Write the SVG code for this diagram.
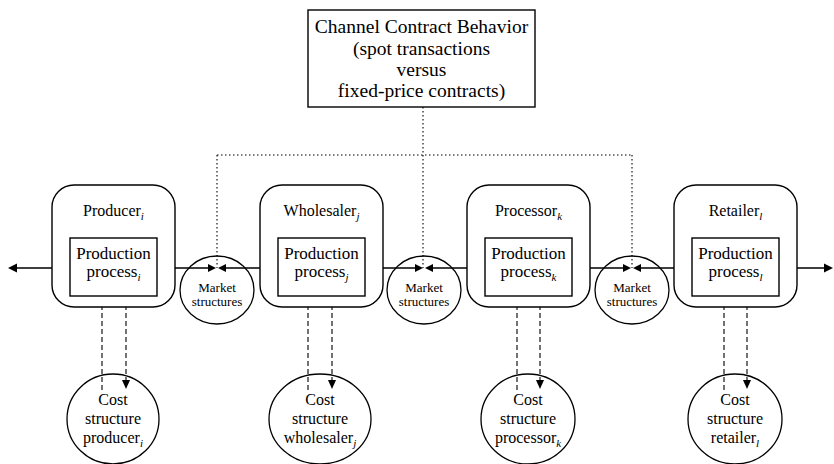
<svg xmlns="http://www.w3.org/2000/svg" width="834" height="464" viewBox="0 0 834 464" font-family="'Liberation Serif', 'DejaVu Serif', serif">
<style>
text{font-family:'Liberation Serif','DejaVu Serif',serif;fill:#000;text-anchor:middle}
.box{fill:#fff;stroke:#000;stroke-width:1.4}
.ln{stroke:#000;stroke-width:1.3;fill:none}
.dot{stroke:#000;stroke-width:1.1;fill:none;stroke-dasharray:1.5 2.5}
.dash{stroke:#000;stroke-width:1.1;fill:none;stroke-dasharray:5 3}
.ah{fill:#000;stroke:none}
.t19{font-size:19.5px}
.t16{font-size:16px}
.t17{font-size:17px}
.t13{font-size:13px}
.sub{font-style:italic;font-size:11px}
</style>
<rect width="834" height="464" fill="#fff"/>
<g id="connectors">
  <path class="dot" d="M423 107V268M217 155H632M217 155V268M632 155V268"/>
  <path class="ln" d="M52 268H14M175 268H209M260 268H225M383 268H416M467 268H432M590 268H624M674 268H640M797 268H826"/>
  <polygon class="ah" points="8,268 17,263.5 17,272.5"/>
  <polygon class="ah" points="216,268 208,264 208,272"/>
  <polygon class="ah" points="218,268 226,264 226,272"/>
  <polygon class="ah" points="423,268 415,264 415,272"/>
  <polygon class="ah" points="425,268 433,264 433,272"/>
  <polygon class="ah" points="631,268 623,264 623,272"/>
  <polygon class="ah" points="633,268 641,264 641,272"/>
  <polygon class="ah" points="833,268 824,263.5 824,272.5"/>
  <path class="dash" d="M102 390V290M126 281V381M308 390V290M332 281V381M517 390V290M540 281V381M724 390V290M747 281V381"/>
  <polygon class="ah" points="102,282 98,291 106,291"/>
  <polygon class="ah" points="126,389 122,380 130,380"/>
  <polygon class="ah" points="308,282 304,291 312,291"/>
  <polygon class="ah" points="332,389 328,380 336,380"/>
  <polygon class="ah" points="517,282 513,291 521,291"/>
  <polygon class="ah" points="540,389 536,380 544,380"/>
  <polygon class="ah" points="724,282 720,291 728,291"/>
  <polygon class="ah" points="747,389 743,380 751,380"/>
</g>
<g id="contract">
  <rect class="box" x="308" y="10" width="227" height="97"/>
  <text class="t19" x="421.5" y="33">Channel Contract Behavior</text>
  <text class="t19" x="421.5" y="55">(spot transactions</text>
  <text class="t19" x="421.5" y="76">versus</text>
  <text class="t19" x="421.5" y="97">fixed-price contracts)</text>
</g>
<g id="producer">
  <rect class="box" x="52" y="185" width="123" height="122" rx="22"/>
  <text class="t16" x="113.5" y="216">Producer<tspan class="sub" dy="4">i</tspan></text>
  <rect class="box" x="70" y="238" width="87" height="58"/>
  <text class="t17" x="113.5" y="259">Production</text>
  <text class="t17" x="113.5" y="277">process<tspan class="sub" dy="4">i</tspan></text>
</g>
<g id="wholesaler">
  <rect class="box" x="260" y="185" width="123" height="122" rx="22"/>
  <text class="t16" x="321.5" y="216">Wholesaler<tspan class="sub" dy="4">j</tspan></text>
  <rect class="box" x="278" y="238" width="87" height="58"/>
  <text class="t17" x="321.5" y="259">Production</text>
  <text class="t17" x="321.5" y="277">process<tspan class="sub" dy="4">j</tspan></text>
</g>
<g id="processor">
  <rect class="box" x="467" y="185" width="123" height="122" rx="22"/>
  <text class="t16" x="528.5" y="216">Processor<tspan class="sub" dy="4">k</tspan></text>
  <rect class="box" x="485" y="238" width="87" height="58"/>
  <text class="t17" x="528.5" y="259">Production</text>
  <text class="t17" x="528.5" y="277">process<tspan class="sub" dy="4">k</tspan></text>
</g>
<g id="retailer">
  <rect class="box" x="674" y="185" width="123" height="122" rx="22"/>
  <text class="t16" x="735.5" y="216">Retailer<tspan class="sub" dy="4">l</tspan></text>
  <rect class="box" x="692" y="238" width="87" height="58"/>
  <text class="t17" x="735.5" y="259">Production</text>
  <text class="t17" x="735.5" y="277">process<tspan class="sub" dy="4">l</tspan></text>
</g>
<g id="market1">
  <ellipse class="ln" cx="217" cy="290" rx="37" ry="34"/>
  <text class="t13" x="217" y="292">Market</text>
  <text class="t13" x="217" y="306">structures</text>
</g>
<g id="market2">
  <ellipse class="ln" cx="424" cy="290" rx="37" ry="34"/>
  <text class="t13" x="424" y="292">Market</text>
  <text class="t13" x="424" y="306">structures</text>
</g>
<g id="market3">
  <ellipse class="ln" cx="632" cy="290" rx="37" ry="34"/>
  <text class="t13" x="632" y="292">Market</text>
  <text class="t13" x="632" y="306">structures</text>
</g>
<g id="cost-producer">
  <ellipse class="ln" cx="113" cy="419" rx="46" ry="45"/>
  <text class="t16" x="113" y="405">Cost</text>
  <text class="t16" x="113" y="424">structure</text>
  <text class="t16" x="113" y="443">producer<tspan class="sub" dy="4">i</tspan></text>
</g>
<g id="cost-wholesaler">
  <ellipse class="ln" cx="320" cy="419" rx="51" ry="45"/>
  <text class="t16" x="320" y="405">Cost</text>
  <text class="t16" x="320" y="424">structure</text>
  <text class="t16" x="320" y="443">wholesaler<tspan class="sub" dy="4">j</tspan></text>
</g>
<g id="cost-processor">
  <ellipse class="ln" cx="528" cy="419" rx="47" ry="45"/>
  <text class="t16" x="528" y="405">Cost</text>
  <text class="t16" x="528" y="424">structure</text>
  <text class="t16" x="528" y="443">processor<tspan class="sub" dy="4">k</tspan></text>
</g>
<g id="cost-retailer">
  <ellipse class="ln" cx="735" cy="419" rx="47" ry="45"/>
  <text class="t16" x="735" y="405">Cost</text>
  <text class="t16" x="735" y="424">structure</text>
  <text class="t16" x="735" y="443">retailer<tspan class="sub" dy="4">l</tspan></text>
</g>
</svg>
